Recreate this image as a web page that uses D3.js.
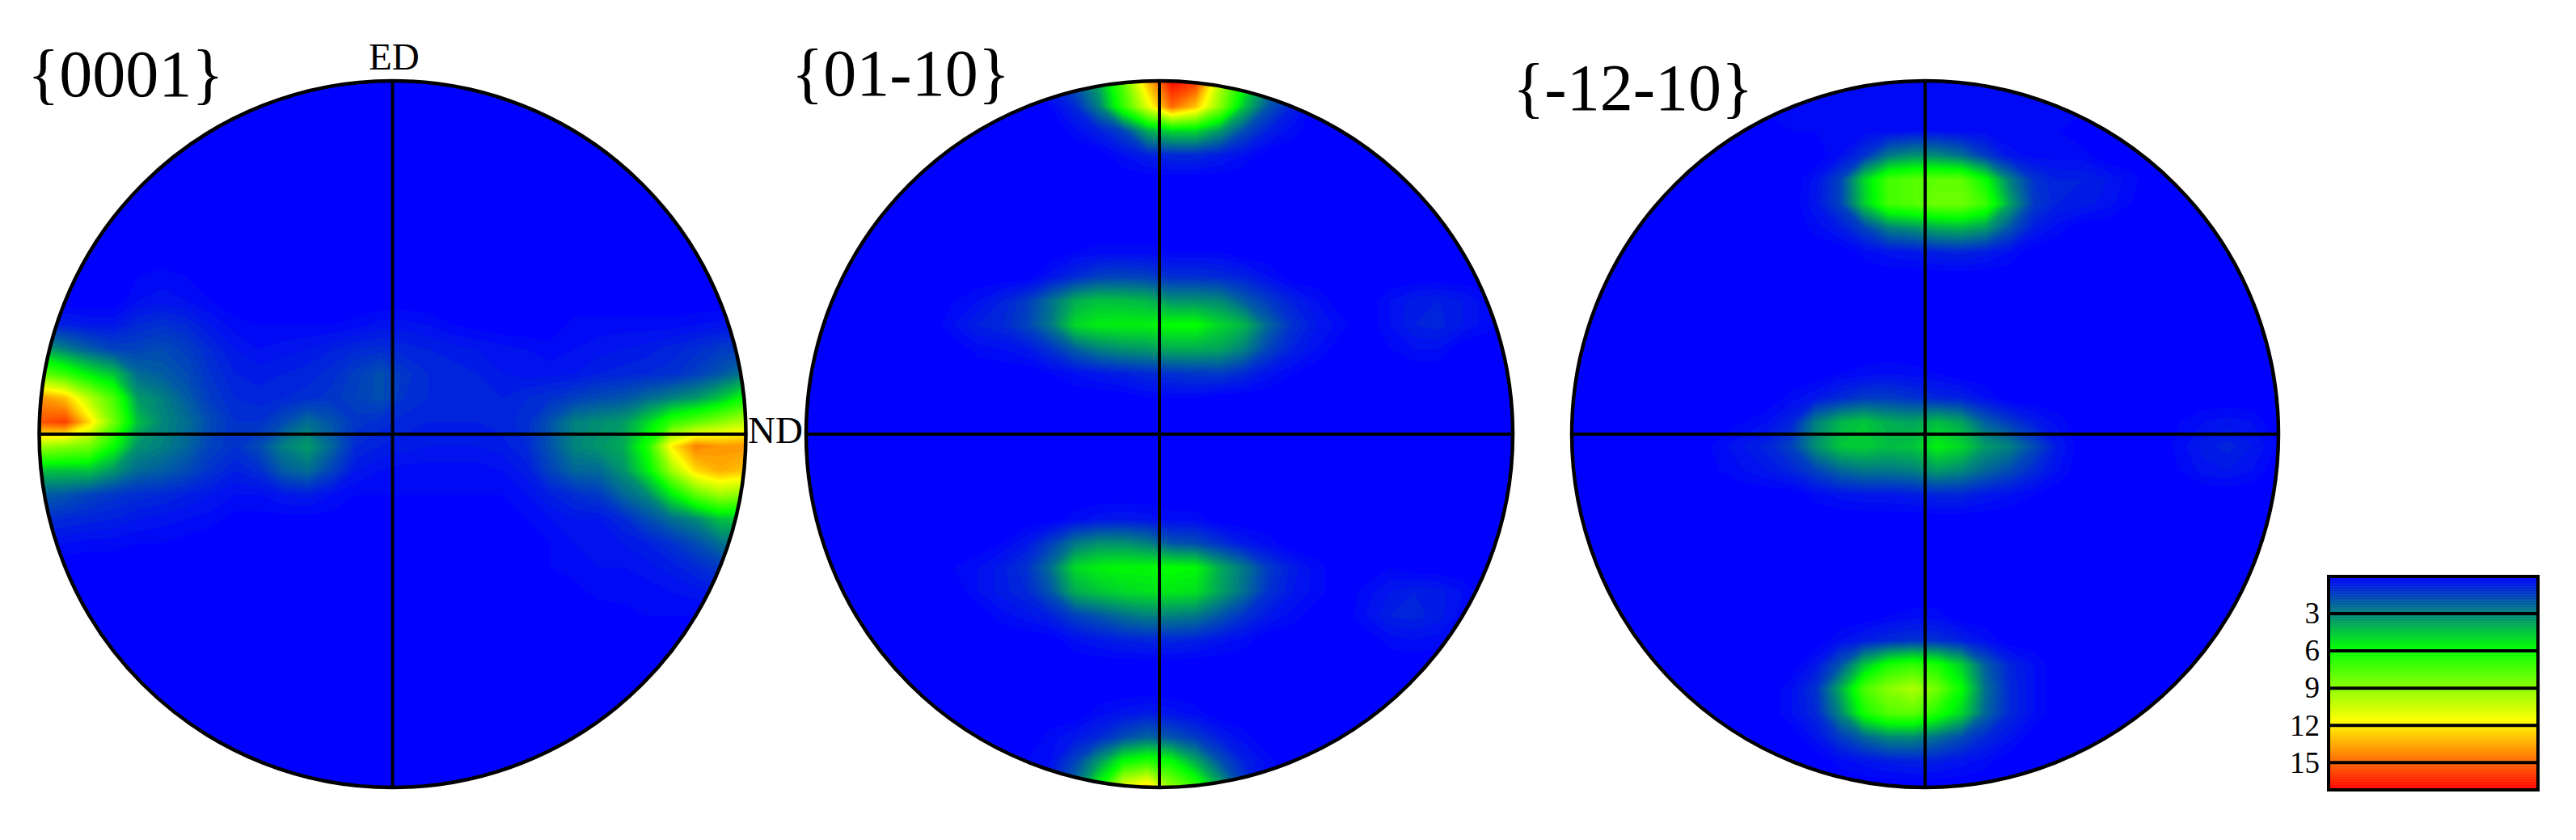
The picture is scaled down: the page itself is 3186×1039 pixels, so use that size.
<!DOCTYPE html>
<html>
<head>
<meta charset="utf-8">
<script src="https://cdnjs.cloudflare.com/ajax/libs/d3/7.8.5/d3.min.js"></script>
<style>
  html, body { margin: 0; background: #fff; }
  svg { display: block; }
  text { font-family: "Liberation Serif", serif; fill: #000; }
</style>
</head>
<body>
<svg id="chart" width="3186" height="1039"></svg>
<script>
// pole figure intensities, 30 x 30 grid (a short row means the rest is 0)
var pf0001 = [
  [], [], [], [], [], [], [], [],
  [0,0,0,0,0.2,0.3,0.2],
  [0,0,0,0,0.4,0.5,0.4,0.2],
  [0.8,0.8,0.6,0.6,1,1.2,1,0.6,0.3,0.2,0.2,0.2,0.2,0.3,0.5,0.5,0.4,0.2,0.1,0,0,0,0.3,0.3,0.3,0.3,0.3,0.4,0.5,0.6],
  [4,3,2.2,1.6,1.6,1.8,1.5,1,0.6,0.4,0.5,0.6,0.8,1,1.1,0.9,0.8,0.7,0.6,0.5,0.4,0.3,0.4,0.5,0.6,0.7,0.9,1.1,1.4,1.6],
  [8,7,5.5,4.5,2.5,2.2,1.8,1.2,0.8,0.7,0.8,0.9,1.1,1.5,1.9,1.3,1,0.9,0.8,0.6,0.5,0.5,0.6,0.8,0.9,1,1.1,1.5,2,2.8],
  [14,13,10,7.5,3.6,3,2.2,1.4,1,0.9,1,1.1,1.3,1.6,1.9,1.2,1,0.9,0.8,0.8,1,1.2,1.5,1.8,2,2.5,3,3.5,4.5,6],
  [15.5,16,12.5,8.5,4.4,3.2,2.6,1.8,1.2,1.2,1.8,2.6,2,1.3,1.1,0.9,0.8,0.8,0.8,0.9,1.1,2,3,3.3,3.6,5,7,8,9,10],
  [9.5,9,8.5,6,3.4,3,2.4,1.6,1.2,1.8,3,3.6,2.4,1,0.8,0.7,0.6,0.6,0.6,0.7,1,2,3.1,3.5,4,6.5,12,14.5,14,14],
  [4.5,4.5,4.5,3.5,2.5,2.2,1.8,1.2,0.8,1.1,2.2,2.6,1.6,0.6,0.4,0.3,0.3,0.3,0.3,0.4,0.7,1.6,2.4,2.5,3.4,5.5,9.5,12.5,13.5,13],
  [2.2,2,1.6,1.3,1.1,1,0.8,0.6,0.4,0.4,0.6,0.7,0.4,0.2,0.2,0.2,0.2,0.2,0.2,0.2,0.4,0.8,1.1,1.4,2.4,3.2,5.5,8,9.5,9],
  [1.2,1,0.9,0.8,0.6,0.5,0.4,0.3,0.1,0.1,0.1,0.1,0.1,0.1,0.1,0.1,0.1,0.1,0.1,0.1,0.2,0.4,0.6,0.6,1,1.8,2.6,3.2,4.5,4.5],
  [0.4,0.4,0.3,0.3,0.2,0.2,0.1,0,0,0,0,0,0,0,0,0,0,0,0,0,0.1,0.2,0.4,0.5,0.6,0.8,1.2,1.8,2.6,3],
  [0,0,0,0,0,0,0,0,0,0,0,0,0,0,0,0,0,0,0,0,0,0.2,0.3,0.4,0.4,0.5,0.7,1,1.4,1.8],
  [0,0,0,0,0,0,0,0,0,0,0,0,0,0,0,0,0,0,0,0,0,0,0.1,0.3,0.3,0.3,0.4,0.5,0.7,0.9],
  [0,0,0,0,0,0,0,0,0,0,0,0,0,0,0,0,0,0,0,0,0,0,0,0,0.1,0.2,0.2,0.2,0.2]
];
var pf0110 = [
  [0,0,0,0,0,0,0,0,0,0,1,2,4,8,13,17,16,10,6,3,1.5],
  [0,0,0,0,0,0,0,0,0,0,0.2,1,3,7,11,15,13,9,4.5,2,0.8],
  [0,0,0,0,0,0,0,0,0,0,0,0.3,0.8,1.6,4,5,5,3.6,1.8,0.8,0.3],
  [0,0,0,0,0,0,0,0,0,0,0,0,0,0.4,0.8,1,1,0.7,0.4],
  [], [], [],
  [0,0,0,0,0,0,0,0,0,0,0,0.2,0.3,0.3,0.3,0.2,0.2,0.2],
  [0,0,0,0,0,0,0,0,0,0,0.5,1,1.5,1.6,1.5,1.1,1.1,1,0.8,0.4],
  [0,0,0,0,0,0,0.2,0.4,0.8,1.4,2.6,4,4.5,4.4,4.2,3.4,3.4,3.2,2.2,1.4,0.8,0.4,0,0,0.4,0.7,0.8,0.6,0.3],
  [0,0,0,0,0,0,0.4,0.8,1,1.6,2.8,5,5.5,5.6,5.6,6,6,5,4.2,2.4,1.2,0.6,0.3,0,0.4,0.8,0.9,0.6,0.3],
  [0,0,0,0,0,0,0,0.3,0.4,0.6,1.2,2.2,3,3.4,3.6,4,4,3.8,3,1.6,0.8,0.4,0,0,0.2,0.4,0.4],
  [0,0,0,0,0,0,0,0,0,0,0.2,0.4,0.6,0.8,1,1.2,1.3,1.4,1,0.5,0.2],
  [0,0,0,0,0,0,0,0,0,0,0,0,0,0,0.2,0.2,0.2],
  [], [], [], [],
  [0,0,0,0,0,0,0,0,0,0,0,0.3,0.5,0.6,0.5,0.3,0.3],
  [0,0,0,0,0,0,0,0,0.2,0.6,1.5,2.8,3.4,3.4,3,2,1.8,1.2,0.6,0.3],
  [0,0,0,0,0,0,0.2,0.4,0.7,1.2,2.6,5,5.6,5.8,5.8,6,5.8,4,2.8,1.4,0.7,0.3,0,0,0.2],
  [0,0,0,0,0,0,0,0.4,0.7,1,2,4,4.6,5,5.2,5.4,5.2,3.8,2.6,1.2,0.6,0.3,0,0.3,0.6,0.8,0.7,0.4],
  [0,0,0,0,0,0,0,0,0.3,0.5,0.8,1.5,2,2.6,3,3,2.8,2,1.2,0.6,0.3,0,0,0.4,0.8,0.9,0.7,0.3],
  [0,0,0,0,0,0,0,0,0,0,0,0.4,0.6,0.8,0.9,0.9,0.8,0.5,0.3,0,0,0,0,0,0.3,0.4,0.3],
  [], [],
  [0,0,0,0,0,0,0,0,0,0,0,0,0.3,0.5,0.7,0.5,0.3],
  [0,0,0,0,0,0,0,0,0,0,0.3,0.6,1,1.8,2.4,2,1.4,0.7,0.3],
  [0,0,0,0,0,0,0,0,0,0.2,0.4,1.6,3.6,6,6.8,6,4,2,0.8,0.3],
  [0,0,0,0,0,0,0,0,0,0,1,2.5,6,11,12.5,9,7,4,1.5]
];
var pf1210 = [
  [0,0,0,0,0,0,0,0,0,0,0.3,0.3,0.3,0.3,0.3,0.3,0.3,0.3,0.3,0.3],
  [0,0,0,0,0,0,0,0,0.3,0.3,0.3,0.3,0.3,0.3,0.3,0.3,0.3,0.3,0.3,0.3,0.3,0.3],
  [0,0,0,0,0,0,0,0,0,0.2,0.2,0.2,0.3,0.3,0.4,0.4,0.3,0.3,0.2,0.2,0.2],
  [0,0,0,0,0,0,0,0,0,0,0,0.4,1.2,2.8,3.4,3.2,2.6,1.4,0.5,0.3,0.3,0.3],
  [0,0,0,0,0,0,0,0,0,0,0.5,1.6,5,7.4,7.8,8,8,6,3,1.2,0.8,0.8,0.6,0.3],
  [0,0,0,0,0,0,0,0,0,0,0.6,1.6,4.8,7.4,7.8,8.4,8.4,7.2,3.8,1.4,0.8,0.7,0.5,0.2],
  [0,0,0,0,0,0,0,0,0,0,0.3,0.7,1.6,3,3.4,4,4.2,3.6,2,0.7,0.3],
  [0,0,0,0,0,0,0,0,0,0,0,0,0.3,0.5,0.6,0.8,0.9,0.7,0.4],
  [], [], [], [],
  [0,0,0,0,0,0,0,0,0,0,0,0.2,0.3,0.4,0.3,0.2],
  [0,0,0,0,0,0,0,0,0,0.3,0.6,1,1.4,1.4,1.2,0.9,0.8,0.4],
  [0,0,0,0,0,0,0,0.2,0.4,0.9,3,4.2,4.6,4,3.8,4.4,3.8,2.2,1.4,0.7,0.3,0,0,0,0,0.2,0.4,0.5,0.4],
  [0,0,0,0,0,0,0.3,0.6,0.9,1.6,3.4,4.6,4.8,4.4,4.6,5.6,5,3.6,3,1.8,0.6,0,0,0,0,0.3,0.7,0.9,0.6,0.2],
  [0,0,0,0,0,0,0.2,0.4,0.6,0.9,1.6,2.4,2.8,2.8,3,3.6,3.2,2.4,1.8,1,0.4,0,0,0,0,0.2,0.5,0.6,0.4],
  [0,0,0,0,0,0,0,0,0,0,0.3,0.5,0.6,0.6,0.7,0.9,0.9,0.6,0.4,0.2],
  [], [], [], [],
  [0,0,0,0,0,0,0,0,0,0,0,0,0,0.2,0.3,0.3],
  [0,0,0,0,0,0,0,0,0,0,0,0.4,0.7,1,1.2,1.1,0.8,0.4],
  [0,0,0,0,0,0,0,0,0,0,0.6,2,4.6,6.4,7,6.4,4.8,2.2,0.9,0.4],
  [0,0,0,0,0,0,0,0,0,0.4,1.2,4,7.6,9,9.8,8.4,6,2.6,1,0.4],
  [0,0,0,0,0,0,0,0,0,0.4,1,3.2,6.4,7.8,8,6.6,5,2.4,1,0.4],
  [0,0,0,0,0,0,0,0,0,0,0.5,1.4,2.4,3.2,3.2,2.6,1.8,1,0.5],
  [0,0,0,0,0,0,0,0,0,0,0,0.3,0.5,0.7,0.8,0.7,0.5,0.3]
];

var figureNames = ["{0001}", "{01-10}", "{-12-10}"];
var figureGrids = [pf0001, pf0110, pf1210];
var legendTicks = [3, 6, 9, 12, 15];
var colorStops = [0, 5.8, 11.6, 17.2];
var colorRange = ["#0000ff", "#00ff00", "#ffff00", "#ff0000"];

var gridSize = 30;
var radius = 437;
var centerY = 537;
var centerX = [485.5, 1434, 2381];
var titleX = [34, 979, 1871];
var titleY = [119, 118, 136];

var svg = d3.select("#chart");
var color = d3.scaleLinear().domain(colorStops).range(colorRange).interpolate(d3.interpolateRgb);

// grid cell -> pixel offset from the figure centre
var gridX = d3.scaleLinear().domain([0, gridSize]).range([-450, 450]);
var gridPath = d3.geoPath(d3.geoTransform({
  point: function (x, y) { this.stream.point(gridX(x), gridX(y)); }
}));
var levels = d3.range(0.2, 17.2, 0.2);
var contours = d3.contours().size([gridSize, gridSize]).thresholds(levels);

function flatten(rows) {
  var out = [];
  for (var j = 0; j < gridSize; j++) {
    var row = rows[j] || [];
    for (var i = 0; i < gridSize; i++) out.push(row[i] || 0);
  }
  return out;
}

figureGrids.forEach(function (rows, k) {
  svg.append("clipPath").attr("id", "clip" + k)
    .append("circle").attr("r", radius);

  var fig = svg.append("g").attr("transform", "translate(" + centerX[k] + "," + centerY + ")");
  fig.append("circle").attr("r", radius).attr("fill", color(0));

  fig.append("g").attr("clip-path", "url(#clip" + k + ")")
    .selectAll("path")
    .data(contours(flatten(rows)))
    .enter().append("path")
    .attr("d", gridPath)
    .attr("fill", function (d) { return color(d.value); });

  fig.append("line").attr("x1", -radius).attr("x2", radius)
    .attr("stroke", "#000").attr("stroke-width", 4);
  fig.append("line").attr("y1", -radius).attr("y2", radius)
    .attr("stroke", "#000").attr("stroke-width", 4);
  fig.append("circle").attr("r", radius)
    .attr("fill", "none").attr("stroke", "#000").attr("stroke-width", 4.5);

  svg.append("text").attr("x", titleX[k]).attr("y", titleY[k])
    .attr("font-size", 82).text(figureNames[k]);
});

svg.append("text").attr("x", 456).attr("y", 86).attr("font-size", 47).text("ED");
svg.append("text").attr("x", 925).attr("y", 548).attr("font-size", 47).text("ND");

/* Legend */
var legendY = d3.scaleLinear().domain([0, 17.2]).range([713, 977]);
var legendLeft = 2880;
var legendRight = 3139;

svg.append("g").selectAll("rect")
  .data(d3.range(0, 17.2, 0.05))
  .enter().append("rect")
  .attr("x", legendLeft)
  .attr("width", legendRight - legendLeft)
  .attr("y", function (d) { return legendY(d); })
  .attr("height", legendY(0.05) - legendY(0) + 0.5)
  .attr("fill", function (d) { return color(d); });

var legendAxis = d3.axisLeft(legendY).tickValues(legendTicks).tickSize(0).tickPadding(11);
var axisG = svg.append("g").attr("transform", "translate(" + legendLeft + ",0)").call(legendAxis);
axisG.select(".domain").remove();
axisG.selectAll("text").attr("font-size", 37).attr("font-family", "Liberation Serif").attr("fill", "#000");

svg.append("g").selectAll("line")
  .data(legendTicks)
  .enter().append("line")
  .attr("x1", legendLeft).attr("x2", legendRight)
  .attr("y1", function (d) { return legendY(d); })
  .attr("y2", function (d) { return legendY(d); })
  .attr("stroke", "#000").attr("stroke-width", 4);

svg.append("rect")
  .attr("x", legendLeft).attr("y", 713)
  .attr("width", legendRight - legendLeft).attr("height", 264)
  .attr("fill", "none").attr("stroke", "#000").attr("stroke-width", 4);
</script>
</body>
</html>
